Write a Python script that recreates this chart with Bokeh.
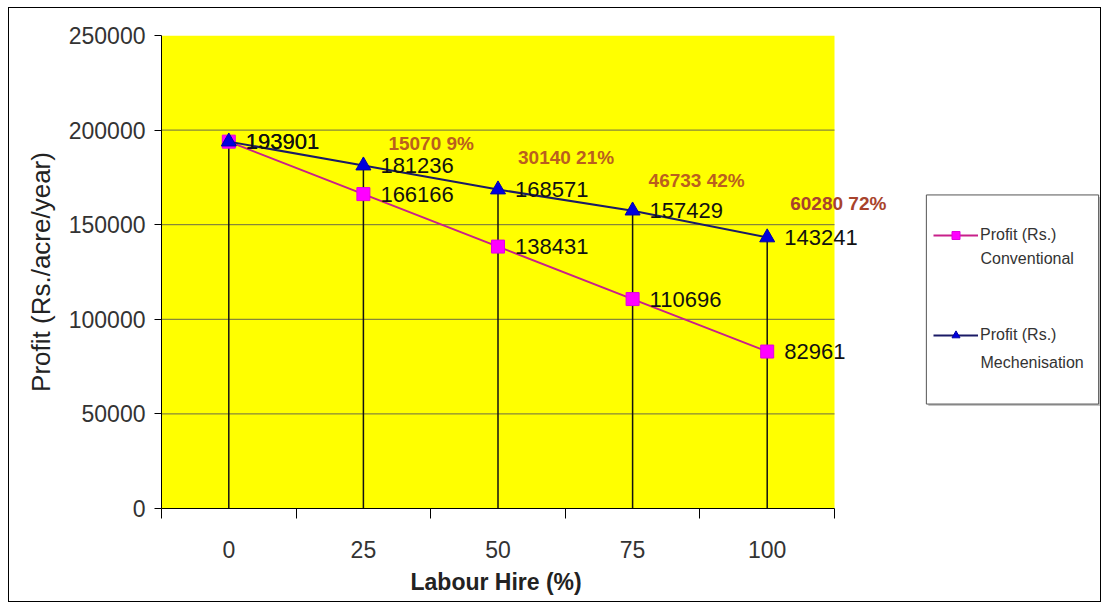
from bokeh.plotting import figure
from bokeh.models import (Range1d, FixedTicker, NumeralTickFormatter, Legend,
                          LegendItem, Label, Title)
from bokeh.core.properties import value
from bokeh.embed import file_html
from bokeh.resources import INLINE

# ---------------- data ----------------
labour_hire = [0, 25, 50, 75, 100]
profit_conventional = [193901, 166166, 138431, 110696, 82961]
profit_mechanisation = [193901, 181236, 168571, 157429, 143241]
gain_hire = [25, 50, 75, 100]
gain_values = [15070, 30140, 46733, 60280]
gain_percent = [9, 21, 42, 72]
y_ticks = [0, 50000, 100000, 150000, 200000, 250000]
x_tick_labels = ["0", "25", "50", "75", "100"]
series_names = ["Profit (Rs.)\nConventional", "Profit (Rs.)\nMechenisation"]

# ---------------- styles / layout ----------------
FONT = "Liberation Sans"
CONV_LINE = "#C8208A"
CONV_MARK = "#FF00FF"
MECH_LINE = "#1A1A66"
MECH_MARK = "#0000DD"
GAIN_COLORS = ["#BA5F1E", "#BA5F1E", "#BA5F1E", "#A8432C"]
gain_dx = [25, 20, 16, 23]
gain_dy = [-22, -32, -30, -34]

PLOT_W = 673          # width of the yellow plot area in px
FRAME_W = 939         # frame also holds the white area with the legend
FRAME_H = 473
HALF_STEP = 12.5
X_LO = labour_hire[0] - HALF_STEP
X_HI = labour_hire[-1] + HALF_STEP
X_END = X_LO + (X_HI - X_LO) * FRAME_W / PLOT_W
Y_MAX = y_ticks[-1]

p = figure(frame_width=FRAME_W, frame_height=FRAME_H,
           x_range=Range1d(X_LO, X_END), y_range=Range1d(0, Y_MAX),
           output_backend="svg", toolbar_location=None,
           min_border_left=152, min_border_right=0,
           min_border_top=27, min_border_bottom=8,
           background_fill_color="white", border_fill_color="white",
           outline_line_color=None)
p.styles = {"border": "1px solid #000", "margin": "7px 0 0 8px"}

# yellow plot area + horizontal grid lines
p.quad(left=[X_LO], right=[X_HI], bottom=[0], top=[Y_MAX],
       fill_color="#FFFF00", line_color=None)
grid_vals = y_ticks[1:-1]
p.segment(x0=[X_LO] * len(grid_vals), x1=[X_HI] * len(grid_vals),
          y0=grid_vals, y1=grid_vals, line_color="#6a6a48", line_width=1)
p.xgrid.visible = False
p.ygrid.visible = False

# y axis
p.yaxis.ticker = FixedTicker(ticks=y_ticks, minor_ticks=[])
p.yaxis.formatter = NumeralTickFormatter(format="0")
p.yaxis.axis_line_color = "#000"
p.yaxis.major_tick_line_color = "#000"
p.yaxis.major_tick_out = 7
p.yaxis.major_tick_in = 0
p.yaxis.minor_tick_line_color = None
p.yaxis.major_label_text_font = FONT
p.yaxis.major_label_text_font_size = "23px"
p.yaxis.major_label_text_color = "#333"
p.yaxis.major_label_standoff = 9
p.yaxis.axis_label = "Profit (Rs./acre/year)"
p.yaxis.axis_label_text_font = FONT
p.yaxis.axis_label_text_font_size = "26px"
p.yaxis.axis_label_text_font_style = "normal"
p.yaxis.axis_label_text_color = "#222"
p.yaxis.axis_label_standoff = 10

# x axis (limited to the yellow area)
minor_x = [x - HALF_STEP for x in labour_hire] + [labour_hire[-1] + HALF_STEP]
p.xaxis.ticker = FixedTicker(ticks=labour_hire, minor_ticks=minor_x)
p.xaxis.bounds = (X_LO, X_HI)
p.xaxis.major_label_overrides = {x: s for x, s in zip(labour_hire, x_tick_labels)}
p.xaxis.axis_line_color = "#000"
p.xaxis.major_tick_line_color = None
p.xaxis.major_tick_out = 0
p.xaxis.major_tick_in = 0
p.xaxis.minor_tick_line_color = "#000"
p.xaxis.minor_tick_out = 10
p.xaxis.minor_tick_in = 0
p.xaxis.major_label_text_font = FONT
p.xaxis.major_label_text_font_size = "23px"
p.xaxis.major_label_text_color = "#333"
p.xaxis.major_label_standoff = 22
p.add_layout(Title(text="Labour Hire (%)", align="left", offset=249,
                   text_font=FONT, text_font_size="23px", text_font_style="bold",
                   text_color="#222", standoff=13), "below")

# drop lines
tops = [max(a, b) for a, b in zip(profit_conventional, profit_mechanisation)]
p.segment(x0=labour_hire, y0=[0] * len(labour_hire), x1=labour_hire, y1=tops,
          line_color="#111", line_width=1.5)

# series
conv_line = p.line(labour_hire, profit_conventional, line_color=CONV_LINE, line_width=2)
conv_mark = p.scatter(labour_hire, profit_conventional, marker="square", size=13,
                      fill_color=CONV_MARK, line_color="#E000E0")
mech_line = p.line(labour_hire, profit_mechanisation, line_color=MECH_LINE, line_width=2)
mech_mark = p.scatter(labour_hire, profit_mechanisation, marker="triangle", size=15,
                      fill_color=MECH_MARK, line_color="#0000AA")

# data labels
for vals in (profit_conventional, profit_mechanisation):
    p.text(x=labour_hire, y=vals, text=[str(v) for v in vals],
           x_offset=17, text_baseline="middle", text_align="left",
           text_font=value(FONT), text_font_size="22px", text_color="#111")

# gain annotations
mech_at = dict(zip(labour_hire, profit_mechanisation))
for xh, g, pc, c, dx, dy in zip(gain_hire, gain_values, gain_percent,
                                GAIN_COLORS, gain_dx, gain_dy):
    p.text(x=[xh], y=[mech_at[xh]], text=[f"{g} {pc}%"],
           x_offset=dx, y_offset=dy, text_baseline="middle", text_align="left",
           text_font=value(FONT), text_font_size="19px", text_font_style="bold",
           text_color=c)

# legend box (frame-relative screen units)
shadow = Label(x=853, y=207, x_units="screen", y_units="screen", text=" ",
               text_font_size="1px", text_align="center", text_baseline="middle",
               padding=dict(left=86, right=86, top=104, bottom=104),
               background_fill_color="#c4c4c4", border_line_color=None)
box = Label(x=851, y=209, x_units="screen", y_units="screen", text=" ",
            text_font_size="1px", text_align="center", text_baseline="middle",
            padding=dict(left=86, right=86, top=104, bottom=104),
            background_fill_color="white", border_line_color="#555",
            border_line_width=1)
p.add_layout(shadow)
p.add_layout(box)

first_lines = [s.split("\n")[0] for s in series_names]
second_lines = [s.split("\n")[1] for s in series_names]
legend = Legend(items=[LegendItem(label=first_lines[0], renderers=[conv_line, conv_mark]),
                       LegendItem(label=first_lines[1], renderers=[mech_line, mech_mark])],
                location=(772, 163), orientation="vertical",
                glyph_width=45, glyph_height=20, label_height=20, label_standoff=2,
                spacing=80, padding=0, margin=0,
                border_line_color=None, background_fill_alpha=0,
                label_text_font=FONT, label_text_font_size="16px",
                label_text_color="#333")
p.add_layout(legend)
for txt, ys in zip(second_lines, [250, 146]):
    p.add_layout(Label(x=819, y=ys, x_units="screen", y_units="screen", text=txt,
                       text_font=FONT, text_font_size="16px", text_color="#333",
                       text_baseline="middle", text_align="left"))

open("out.html", "w").write(file_html(p, INLINE))
